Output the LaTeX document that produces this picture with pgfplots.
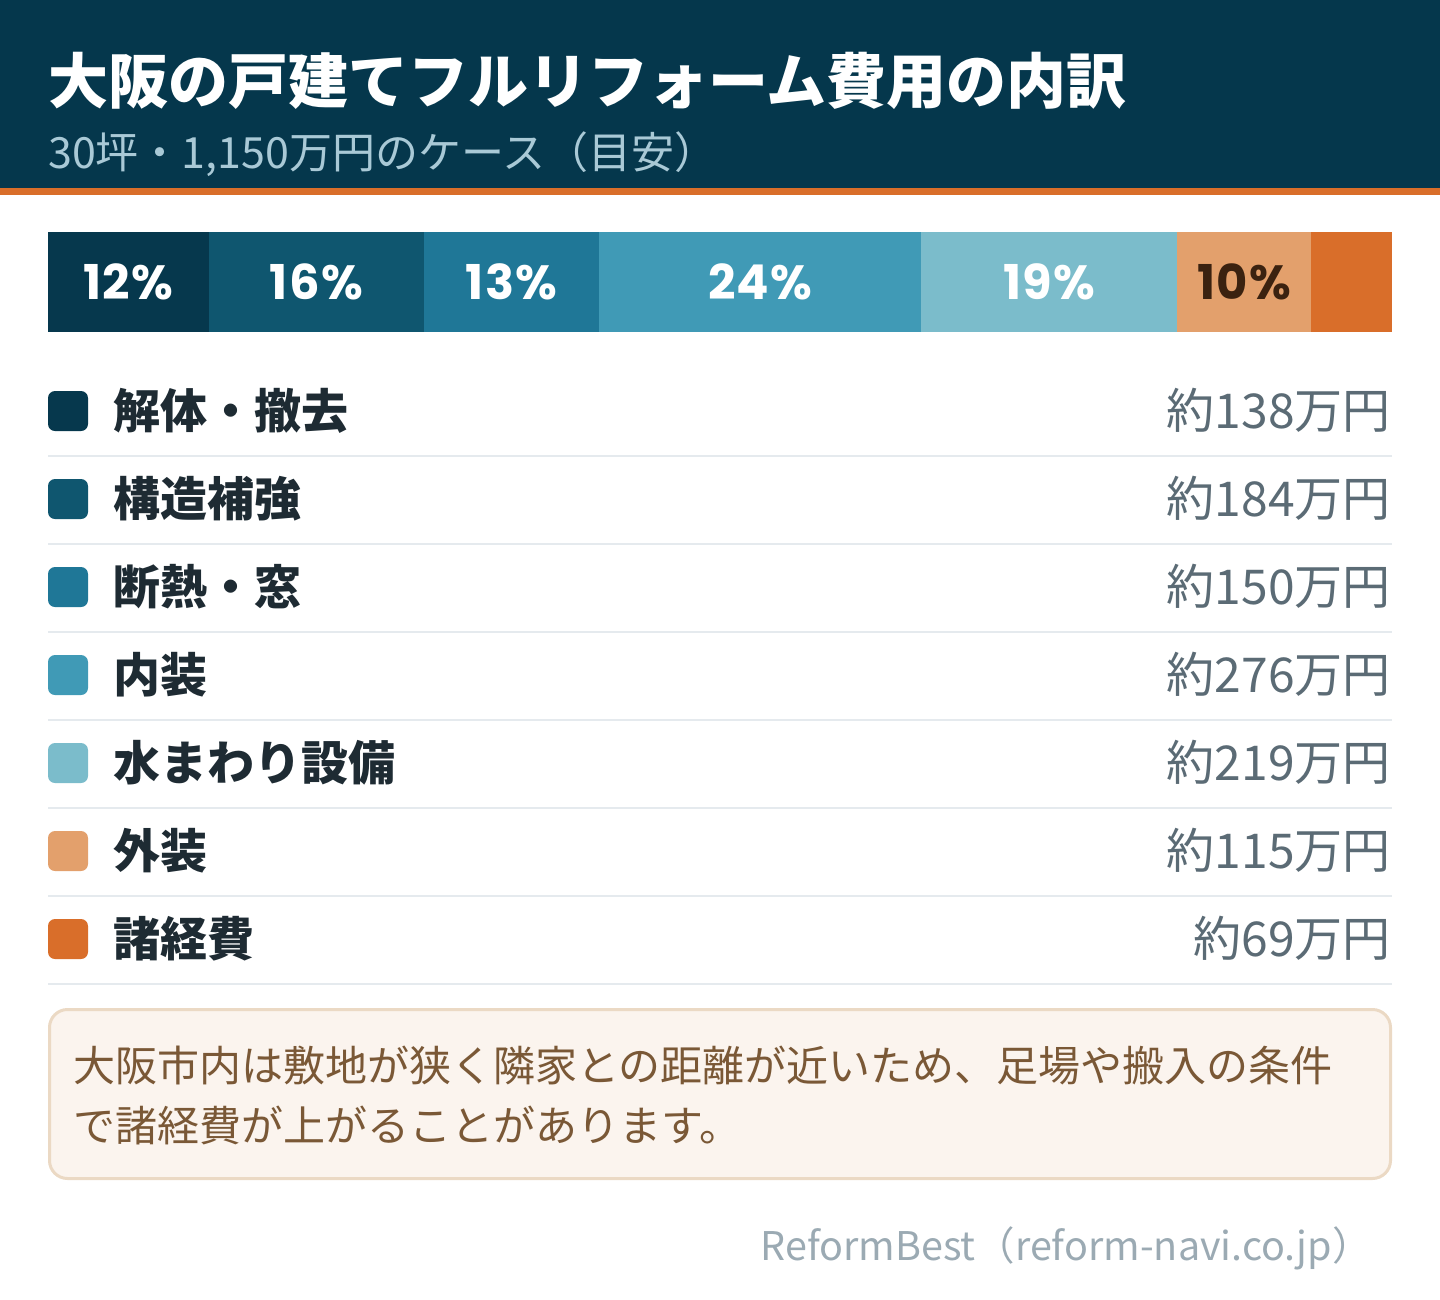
\documentclass[border=0pt]{standalone}
\usepackage{pgfplots}
\pgfplotsset{compat=1.18}
\usepackage{fontspec}
\newfontfamily\jp{Noto Sans CJK JP}
\newfontfamily\pop{Poppins}[UprightFont=*-Bold, LetterSpace=3]
\definecolor{hdr}{HTML}{05374C}
\definecolor{org}{HTML}{D96E2A}
\definecolor{c1}{HTML}{06384D}
\definecolor{c2}{HTML}{0F566F}
\definecolor{c3}{HTML}{1F7797}
\definecolor{c4}{HTML}{409AB6}
\definecolor{c5}{HTML}{7BBCCB}
\definecolor{c6}{HTML}{E3A06C}
\definecolor{c7}{HTML}{D96E2A}
\definecolor{subt}{HTML}{A9C9D6}
\definecolor{lab}{HTML}{1E2B33}
\definecolor{val}{HTML}{5B6B75}
\definecolor{sep}{HTML}{E5EAEE}
\definecolor{notebg}{HTML}{FBF4EE}
\definecolor{notebd}{HTML}{EBD9C4}
\definecolor{notetx}{HTML}{7A5836}
\definecolor{foot}{HTML}{9BAAB3}
\definecolor{brn}{HTML}{3B2210}
\pgfdeclareplotmark{rsq}{%
  \pgfpathmoveto{\pgfpoint{-\pgfplotmarksize+7pt}{-\pgfplotmarksize}}%
  \pgfpathlineto{\pgfpoint{\pgfplotmarksize-7pt}{-\pgfplotmarksize}}%
  \pgfpatharc{270}{360}{7pt}%
  \pgfpathlineto{\pgfpoint{\pgfplotmarksize}{\pgfplotmarksize-7pt}}%
  \pgfpatharc{0}{90}{7pt}%
  \pgfpathlineto{\pgfpoint{-\pgfplotmarksize+7pt}{\pgfplotmarksize}}%
  \pgfpatharc{90}{180}{7pt}%
  \pgfpathlineto{\pgfpoint{-\pgfplotmarksize}{-\pgfplotmarksize+7pt}}%
  \pgfpatharc{180}{270}{7pt}%
  \pgfpathclose
  \pgfusepathqfill}
\newcommand\fs[1]{\fontsize{#1pt}{#1pt}\selectfont}
\begin{document}
\begin{tikzpicture}
\path[use as bounding box] (0,0) rectangle (1440pt,-1300pt);
\begin{scope}[x=1pt,y=-1pt]
  \fill[hdr] (0,0) rectangle (1440,188);
  \fill[org] (0,188) rectangle (1440,195);
  \node[anchor=base west, inner sep=0, text=white] at (48,104) {\jp\bfseries\fs{60}大阪の戸建てフルリフォーム費用の内訳};
  \node[anchor=base west, inner sep=0, text=subt] at (48,169) {\jp\fs{43}30坪・1,150万円のケース（目安）};
  \foreach \yy in {456,544,632,720,808,896,984} {
    \draw[sep, line width=2pt] (48,\yy) -- (1392,\yy);
  }
  \draw[notebd, fill=notebg, line width=3pt, rounded corners=18pt] (49.5,1009.5) rectangle (1390.5,1178.5);
  \node[anchor=base west, inner sep=0, text=notetx] at (73,1081) {\jp\fs{42}大阪市内は敷地が狭く隣家との距離が近いため、足場や搬入の条件};
  \node[anchor=base west, inner sep=0, text=notetx] at (73,1141) {\jp\fs{42}で諸経費が上がることがあります。};
  \node[anchor=base east, inner sep=0, text=foot] at (1372,1260) {\jp\fs{39.5}ReformBest（reform-navi.co.jp）};
\end{scope}

\begin{axis}[at={(48pt,-232pt)}, anchor=north west, scale only axis,
  width=1344pt, height=100pt, xmin=0, xmax=1151, ymin=0.5, ymax=1.5,
  xbar stacked, bar width=100pt, hide axis, clip=false, enlargelimits=false]
\addplot[fill=c1, draw=none] coordinates {(138,1)};
\addplot[fill=c2, draw=none] coordinates {(184,1)};
\addplot[fill=c3, draw=none] coordinates {(150,1)};
\addplot[fill=c4, draw=none] coordinates {(276,1)};
\addplot[fill=c5, draw=none] coordinates {(219,1)};
\addplot[fill=c6, draw=none] coordinates {(115,1)};
\addplot[fill=c7, draw=none] coordinates {(69,1)};
\end{axis}

\begin{axis}[at={(48pt,-232pt)}, anchor=north west, scale only axis,
  width=1344pt, height=100pt, xmin=0, xmax=1151, ymin=0.5, ymax=1.5,
  hide axis, clip=false, enlargelimits=false, point meta=explicit symbolic]
\addplot[draw=none, mark=none, nodes near coords={\pgfplotspointmeta\%},
  every node near coord/.style={anchor=base, inner sep=0, yshift=-17pt, text=white, font=\pop\fs{48}}]
  coordinates {(69,1) [12] (230,1) [16] (397,1) [13] (610,1) [24] (857.5,1) [19]};
\addplot[draw=none, mark=none, nodes near coords={\pgfplotspointmeta\%},
  every node near coord/.style={anchor=base, inner sep=0, yshift=-17pt, text=brn, font=\pop\fs{48}}]
  coordinates {(1024.5,1) [10]};
\end{axis}

\begin{axis}[at={(48pt,-411pt)}, anchor=north west, scale only axis,
  width=1344pt, height=528pt, xmin=0, xmax=1344, ymin=0, ymax=6, y dir=reverse,
  hide axis, clip=false, enlargelimits=false,
  point meta=explicit symbolic,
  every node near coord/.style={anchor=base west, inner sep=0, xshift=45pt, yshift=-17pt, text=lab, font=\jp\bfseries\fs{47}}]
\addplot[only marks, mark=rsq, mark size=20pt, color=c1, nodes near coords] coordinates {(20,0) [解体・撤去]};
\addplot[only marks, mark=rsq, mark size=20pt, color=c2, nodes near coords] coordinates {(20,1) [構造補強]};
\addplot[only marks, mark=rsq, mark size=20pt, color=c3, nodes near coords] coordinates {(20,2) [断熱・窓]};
\addplot[only marks, mark=rsq, mark size=20pt, color=c4, nodes near coords] coordinates {(20,3) [内装]};
\addplot[only marks, mark=rsq, mark size=20pt, color=c5, nodes near coords] coordinates {(20,4) [水まわり設備]};
\addplot[only marks, mark=rsq, mark size=20pt, color=c6, nodes near coords] coordinates {(20,5) [外装]};
\addplot[only marks, mark=rsq, mark size=20pt, color=c7, nodes near coords] coordinates {(20,6) [諸経費]};
\addplot[draw=none, mark=none, nodes near coords={約\pgfplotspointmeta 万円},
  every node near coord/.style={anchor=base east, inner sep=0, yshift=-17pt, text=val, font=\jp\fs{48}}]
  coordinates {(1343,0) [138] (1343,1) [184] (1343,2) [150] (1343,3) [276] (1343,4) [219] (1343,5) [115] (1343,6) [69]};
\end{axis}
\end{tikzpicture}
\end{document}
